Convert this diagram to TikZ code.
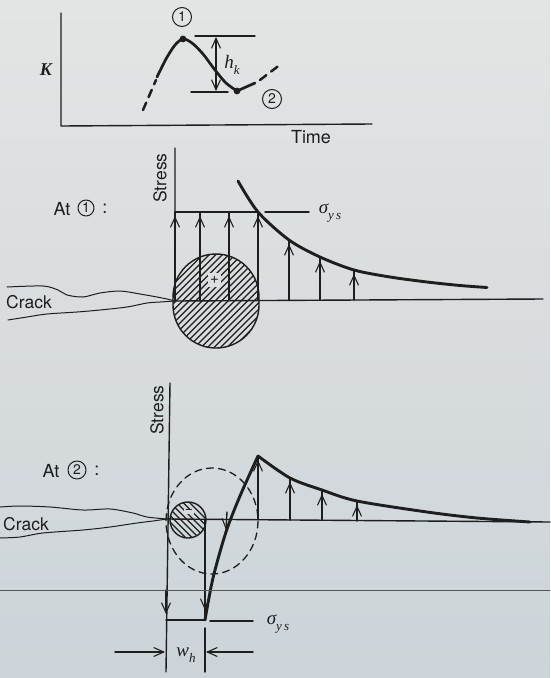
\documentclass[tikz,border=0pt]{standalone}
\usepackage{fontspec}
\setsansfont{TeX Gyre Heros}
\newfontfamily\timesf{Liberation Serif}
\usetikzlibrary{arrows.meta,calc}
\definecolor{ink}{HTML}{1E1E1E}
\definecolor{bgt}{HTML}{E3E5E4}
\definecolor{bgb}{HTML}{CCD4D9}
\definecolor{bgm}{HTML}{D8DCDE}
\newcommand{\subtxt}[1]{\raisebox{-0.28em}{\fontsize{13}{13}\selectfont #1}}
\tikzset{
  barb/.tip={Straight Barb[length=10pt,width=9pt,line width=1.1pt]},
  thinl/.style={line width=1.4pt},
  thickl/.style={line width=2.9pt},
  hatchl/.style={line width=1.15pt},
  lab/.style={font=\sffamily\fontsize{17.5}{17.5}\selectfont, inner sep=0pt},
  mlab/.style={font=\timesf\itshape\fontsize{19}{19}\selectfont, inner sep=0pt},
  circnum/.style={draw=ink, circle, line width=1pt, minimum size=17pt, inner sep=0pt, font=\sffamily\fontsize{14}{14}\selectfont},
}
\begin{document}
\begin{tikzpicture}[x=1pt,y=-1pt,line cap=round,line join=round,color=ink]
\useasboundingbox (0,0) rectangle (550,678);
\shade[top color=bgt, bottom color=bgb, middle color=bgm, draw=none] (0,0) rectangle (550,678);

% ---------- top graph ----------
\draw[thinl] (61,13) -- (61,126) -- (372,124);
\node[font=\timesf\bfseries\itshape\fontsize{18}{18}\selectfont, inner sep=0pt] (K) at (46,70) {K};
\node[lab,font=\sffamily\fontsize{18}{18}\selectfont] (time) at (311,137) {Time};
\draw[line width=2.5pt, dash pattern=on 8pt off 6pt] (143,110) -- (156,80);
\draw[line width=2.7pt] plot[smooth] coordinates {(157,77) (166,59) (175,45) (183,39) (192,43) (203,54) (215,70) (226,83) (237,91)} -- (255,83);
\draw[line width=2.5pt, dash pattern=on 8pt off 6pt] (260,80) -- (281,64);
\fill (183,39) circle (3.4pt);
\fill (237,91) circle (3.4pt);
\node[circnum, minimum size=19pt] (n1) at (182,17) {1};
\node[circnum, minimum size=19pt] (n2) at (272,99) {2};
\draw[thinl] (195,36) -- (255,36);
\draw[thinl] (191,92) -- (228,92);
\draw[thinl,{barb}-{barb}] (216,37) -- (216,91);
\node[mlab] (hk) at (232,65) {h\subtxt{k}};

% ---------- middle panel: At 1 ----------
\node[lab,font=\sffamily\fontsize{18}{18}\selectfont] (at1) at (62,209) {At};
\node[circnum, minimum size=16pt] (c1) at (86,208) {1};
\node[lab,font=\sffamily\fontsize{18}{18}\selectfont] (col1) at (105,209) {:};
\node[lab,rotate=90] (stress1) at (160,178) {Stress};
\node[lab] (crack1) at (29,302) {Crack};
% hatched plastic zone (stadium shape)
\begin{scope}
  \clip (173,305) -- (173,297) arc[start angle=180,end angle=360,radius=43] -- (259,305) arc[start angle=0,end angle=180,radius=43] -- cycle;
  \foreach \k in {-100,-93.5,...,95}{ \draw[hatchl] (173+\k,352) -- (273+\k,252); }
\end{scope}
\draw[thinl] (173,305) -- (173,297) arc[start angle=180,end angle=360,radius=43] -- (259,305) arc[start angle=0,end angle=180,radius=43] -- cycle;
% crack faces
\draw[line width=1pt] plot[smooth] coordinates {(7,287) (43,286) (58,290) (67,295) (83,297) (100,293) (120,291) (140,294) (157,297) (167,299) (175,301)};
\draw[line width=1pt] plot[smooth] coordinates {(8,320) (27,317) (47,314) (77,312) (100,310) (127,307) (147,303) (160,302) (175,301)};
% axes
\draw[thinl] (175,148) -- (175,301) -- (543,299);
\draw[thinl] (175,212) -- (258,212);
\draw[thinl] (265,212) -- (309,212);
\node[mlab] (sys1) at (330,213) {σ\subtxt{y\,s}};
\foreach \x/\t in {175/212,200/212,229/212,258/212,289/240,320/257,354/270}{
  \draw[thinl] (\x,300) -- (\x,\t);
  \draw[thinl,-{barb}] (\x,280) -- (\x,\t+4);
}
\node[font=\sffamily\fontsize{15}{15}\selectfont, fill=bgm!60!bgt, minimum width=13pt, minimum height=14pt, inner sep=0pt] (plus) at (214.5,280) {+};
\draw[thickl] plot[smooth] coordinates {(238,181) (258,212) (289,240) (320,257) (354,270) (390,277) (427,282) (460,285.5) (487,287.5)};

% ---------- bottom panel: At 2 ----------
\node[lab,font=\sffamily\fontsize{18}{18}\selectfont] (at2) at (51,471) {At};
\node[circnum, minimum size=18pt] (c2) at (77,470) {2};
\node[lab,font=\sffamily\fontsize{18}{18}\selectfont] (col2) at (97,471) {:};
\node[lab,rotate=90] (stress2) at (157,410) {Stress};
\node[lab] (crack2) at (26,524) {Crack};
\draw[line width=1pt] plot[smooth] coordinates {(0,507) (20,506) (50,507) (83,510) (110,509) (133,513) (147,517) (167,519)};
\draw[line width=1pt] plot[smooth] coordinates {(0,538) (20,537) (43,533) (83,530) (110,527) (137,523) (153,521) (167,519)};
% dashed zone
\draw[line width=1.3pt, dash pattern=on 7pt off 5pt] (212,521) ellipse [x radius=46, y radius=53];
% small hatched reversed zone
\begin{scope}
  \clip (188,520) circle (18);
  \foreach \k in {-30,-23.5,...,50}{ \draw[hatchl] (150+\k,498) -- (200+\k,548); }
\end{scope}
\draw[thinl] (188,520) circle (18);
\node[font=\sffamily\fontsize{14}{14}\selectfont, fill=bgm!80!bgb, inner sep=0.6pt] (minus) at (189,511.5) {−};
% axes
\draw[thinl] (170,383) -- (166,672);
\draw[thinl] (167,519) -- (550,522);
% compressive block
\draw[line width=1.8pt] (166,620) -- (205,620);
\draw[thinl] (205,520) -- (205,620);
\draw[thinl] (205,628) -- (205,672);
\draw[thinl,-{barb}] (166,590) -- (166,614);
\draw[thinl,-{barb}] (205,585) -- (205,610);
% reloading curve and decay
\draw[thickl] plot[smooth] coordinates {(205,620) (213,578) (226,532) (240,496) (258,456)};
\draw[thinl,-{barb}] (227,512) -- (226,530);
\draw[thickl] plot[smooth] coordinates {(258,456) (290,478) (322,490) (357,501) (427,512) (477,518) (530,522)};
\foreach \x/\t/\b in {258/456/519,290/478/520,322/490/520,357/501/521}{
  \draw[thinl] (\x,\b) -- (\x,\t);
  \draw[thinl,-{barb}] (\x,\b-5) -- (\x,\t+4);
}
% sigma_ys and w_h
\draw[thinl] (210,621) -- (253,621);
\node[mlab] (sys2) at (278,624) {σ\subtxt{y\,s}};
\draw[thinl,-{barb}] (115,652) -- (165,652);
\draw[thinl,-{barb}] (253,652) -- (206,652);
\node[mlab] (wh) at (186,655) {w\subtxt{h}};
% page line
\draw[line width=0.7pt, color=ink!75] (0,590) -- (550,590);
\end{tikzpicture}
\end{document}
